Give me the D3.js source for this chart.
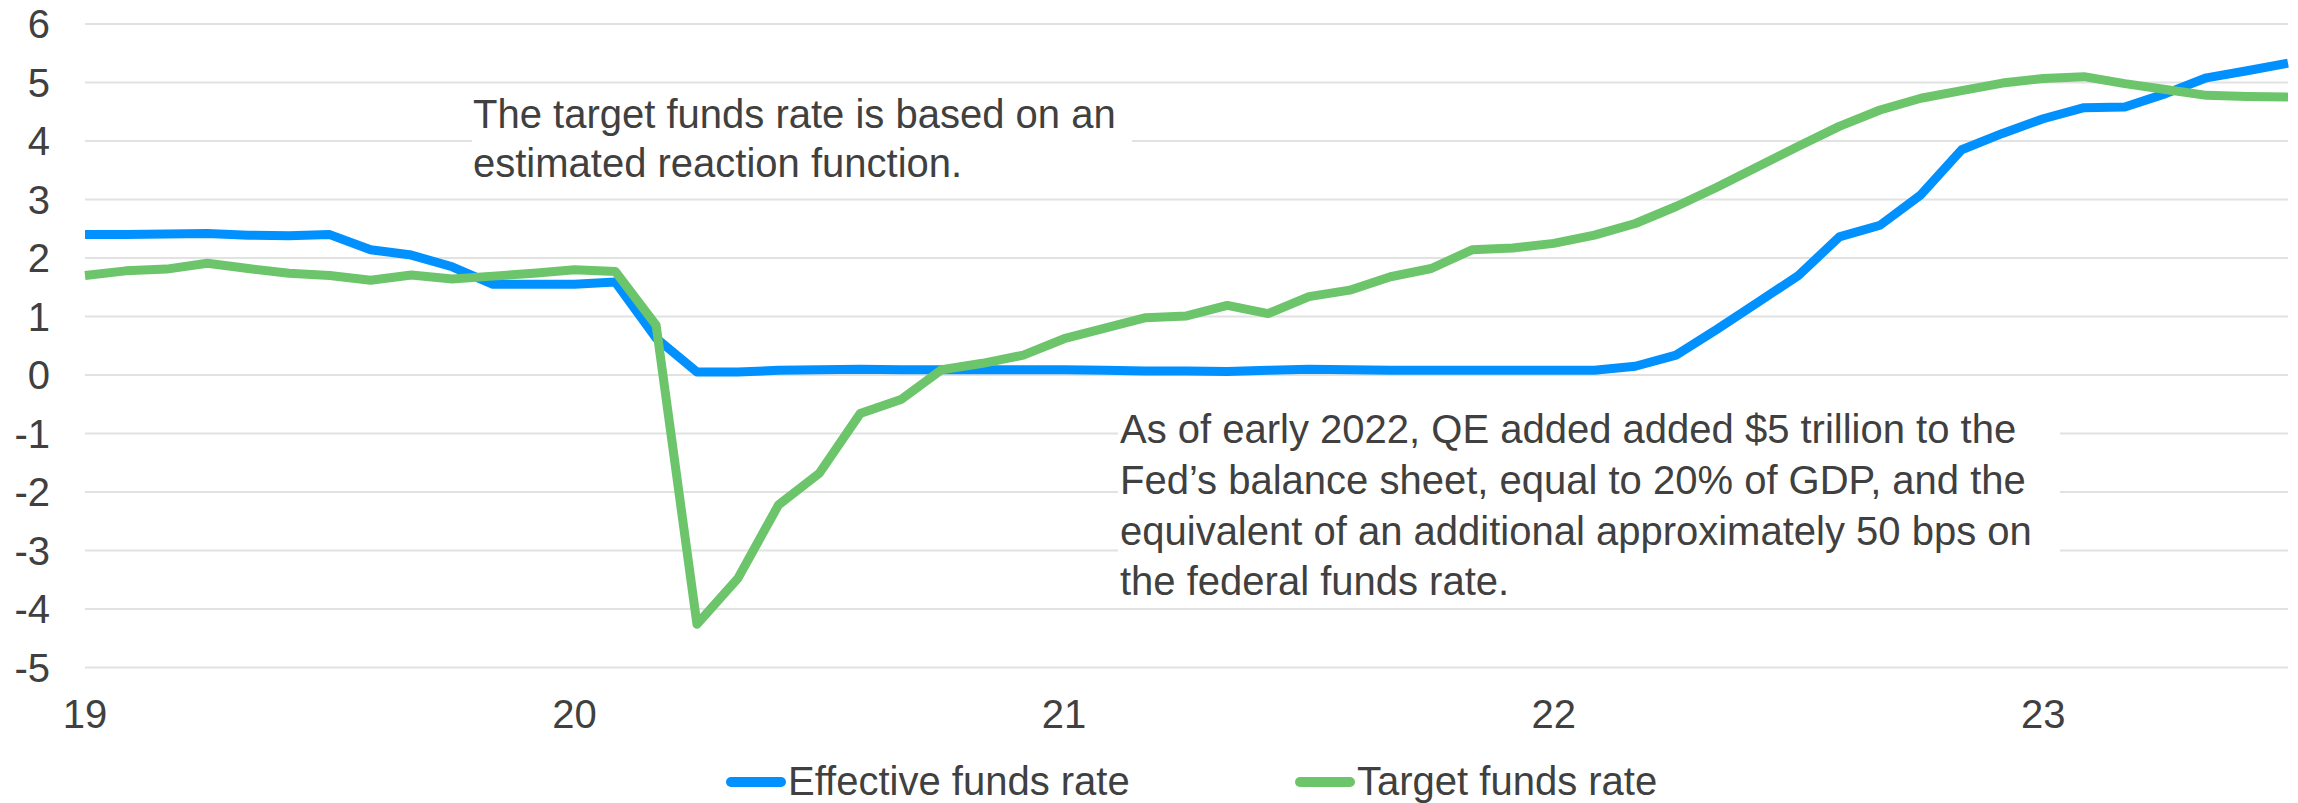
<!DOCTYPE html>
<html>
<head>
<meta charset="utf-8">
<script src="https://cdn.jsdelivr.net/npm/d3@7/dist/d3.min.js"></script>
<style>
  html, body { margin: 0; padding: 0; background: #ffffff; }
  svg { display: block; }
  text { font-family: "Liberation Sans", Arial, sans-serif; fill: #404040; }
</style>
</head>
<body>
<svg id="chart" width="2298" height="803"></svg>
<script>
// ---- Data ----
const months = [];
for (let y = 2019; y <= 2023; y++) {
  for (let m = 1; m <= 12; m++) {
    if (y === 2023 && m > 7) break;
    months.push(y + "-" + String(m).padStart(2, "0"));
  }
}
const xTickMonths = ["2019-01", "2020-01", "2021-01", "2022-01", "2023-01"];
const xTickLabels = ["19", "20", "21", "22", "23"];
const yTicks = [6, 5, 4, 3, 2, 1, 0, -1, -2, -3, -4, -5];

const effective = [
  2.40, 2.40, 2.41, 2.42, 2.39, 2.38, 2.40, 2.14, 2.05, 1.85, 1.55, 1.55,
  1.55, 1.59, 0.63, 0.05, 0.05, 0.08, 0.09, 0.10, 0.09, 0.09, 0.09, 0.09,
  0.09, 0.08, 0.07, 0.07, 0.06, 0.08, 0.10, 0.09, 0.08, 0.08, 0.08, 0.08,
  0.08, 0.08, 0.15, 0.34, 0.78, 1.24, 1.70, 2.36, 2.56, 3.08, 3.85, 4.13,
  4.38, 4.57, 4.58, 4.81, 5.08, 5.20, 5.33
];
const target = [
  1.70, 1.78, 1.81, 1.91, 1.82, 1.74, 1.70, 1.62, 1.71, 1.64, 1.69, 1.74,
  1.80, 1.77, 0.85, -4.26, -3.48, -2.22, -1.68, -0.66, -0.42, 0.09, 0.20, 0.34,
  0.62, 0.80, 0.98, 1.01, 1.19, 1.05, 1.34, 1.45, 1.68, 1.82, 2.14, 2.17,
  2.25, 2.39, 2.59, 2.88, 3.21, 3.56, 3.91, 4.25, 4.53, 4.73, 4.86, 4.99,
  5.07, 5.10, 4.98, 4.88, 4.78, 4.76, 4.75
];
const seriesNames = ["Effective funds rate", "Target funds rate"];
const seriesColors = ["#0091ff", "#6cc56a"];

const note1 = ["The target funds rate is based on an", "estimated reaction function."];
const note2 = [
  "As of early 2022, QE added added $5 trillion to the",
  "Fed\u2019s balance sheet, equal to 20% of GDP, and the",
  "equivalent of an additional approximately 50 bps on",
  "the federal funds rate."
];

// ---- Layout ----
const svg = d3.select("#chart");
const x = d3.scalePoint().domain(months).range([85, 2288]);
const y = d3.scaleLinear().domain([-5, 6]).range([667.5, 24]);

// gridlines
svg.append("g").selectAll("line").data(yTicks).join("line")
  .attr("x1", x.range()[0]).attr("x2", x.range()[1])
  .attr("y1", d => y(d)).attr("y2", d => y(d))
  .attr("stroke", "#e2e2e2").attr("stroke-width", 2);

// y tick labels
svg.append("g").selectAll("text").data(yTicks).join("text")
  .attr("x", 50).attr("y", d => y(d) + 14.3)
  .attr("text-anchor", "end").attr("font-size", 40)
  .text(d => d);

// x tick labels
svg.append("g").selectAll("text").data(xTickMonths).join("text")
  .attr("x", d => x(d)).attr("y", 728)
  .attr("text-anchor", "middle").attr("font-size", 40)
  .text((d, i) => xTickLabels[i]);

// annotation boxes
function note(lines, x0, base, step, boxX, boxY, boxW, boxH) {
  const g = svg.append("g");
  g.append("rect").attr("x", boxX).attr("y", boxY).attr("width", boxW).attr("height", boxH).attr("fill", "#ffffff");
  g.selectAll("text").data(lines).join("text")
    .attr("x", x0).attr("y", (d, i) => base + i * step)
    .attr("font-size", 40).text(d => d);
}
note(note1, 473, 128.3, 48.4, 472, 86, 660, 108);
note(note2, 1120, 443.3, 50.6, 1118, 398, 942, 206);

// lines
const lineGen = d3.line().x((d, i) => x(months[i])).y(d => y(d));
[effective, target].forEach((vals, k) => {
  svg.append("path").datum(vals)
    .attr("d", lineGen)
    .attr("fill", "none")
    .attr("stroke", seriesColors[k])
    .attr("stroke-width", 9)
    .attr("stroke-linejoin", "round");
});

// legend
const legendX = [727, 1296];
seriesNames.forEach((name, k) => {
  const g = svg.append("g");
  g.append("line").attr("x1", legendX[k] + 4).attr("x2", legendX[k] + 54)
    .attr("y1", 782).attr("y2", 782)
    .attr("stroke", seriesColors[k]).attr("stroke-width", 10).attr("stroke-linecap", "round");
  g.append("text").attr("x", legendX[k] + 61).attr("y", 795).attr("font-size", 40).text(name);
});
</script>
</body>
</html>
